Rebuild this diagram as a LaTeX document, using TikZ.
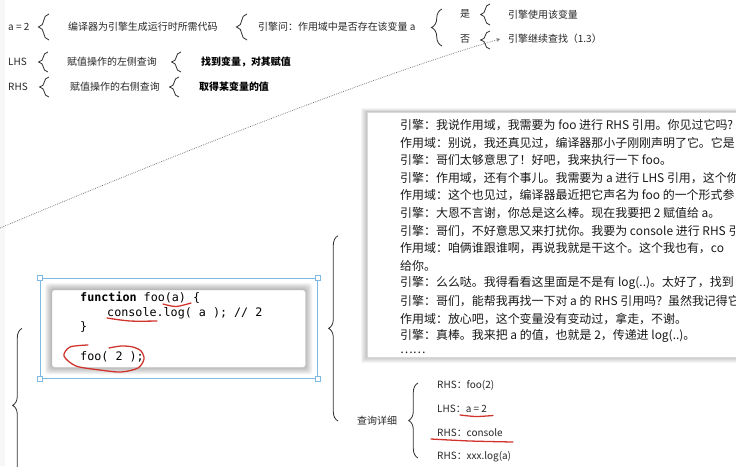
\documentclass[tikz,border=0pt]{standalone}
\usepackage{fontspec}
\setmainfont{Noto Sans CJK SC}
\newfontfamily\codefont{DejaVu Sans Mono}
\usetikzlibrary{arrows.meta, positioning, decorations.pathreplacing, calc, backgrounds}

\definecolor{selblue}{HTML}{7DB9E3}
\definecolor{pen}{HTML}{D0342C}

\begin{document}
\begin{tikzpicture}[
  x=0.03cm, y=-0.03cm,
  every node/.style = {inner sep=0pt, font=\fontsize{8.5}{10}\selectfont, text=black!85},
  txt/.style = {anchor=west},
  strong/.style = {anchor=west, font=\fontsize{8.5}{10}\selectfont\bfseries, text=black},
  talk/.style = {anchor=west, font=\fontsize{10.2}{12}\selectfont, text=black!90},
  codeline/.style = {anchor=west, font=\codefont\fontsize{10}{12}\selectfont, text=black},
  curly/.style = {decorate, decoration={brace, amplitude=#1}, draw=black!80, line width=0.7pt},
  curly/.default = 8,
  panel/.style = {rectangle, fill=white, draw=black!15, line width=0.4pt, anchor=north west},
  handle/.style = {rectangle, draw=selblue, fill=white, line width=0.6pt, minimum size=0.15cm},
  relation/.style = {densely dotted, draw=black!60, line width=0.6pt, -{Stealth[length=3pt, width=3pt]}},
  redpen/.style = {draw=pen, line width=1.1pt, line cap=round, line join=round}
]
\useasboundingbox (0,0) rectangle (736,466);
\clip (0,0) rectangle (736,466);

% Top rows
\node[txt] (a2) at (8,27) {a = 2};
\node[txt] (gen) at (68,27) {编译器为引擎生成运行时所需代码};
\node[txt] (ask) at (258,27) {引擎问：作用域中是否存在该变量 a};
\node[txt] (yes) at (460,14) {是};
\node[txt] (no) at (460,39) {否};
\node[txt] (useit) at (508,15) {引擎使用该变量};
\node[txt] (goon) at (508,39) {引擎继续查找（1.3）};

\node[txt] (lhs) at (8,62) {LHS};
\node[txt] (lhsq) at (67,62) {赋值操作的左侧查询};
\node[strong] (lhsa) at (201,62) {找到变量，对其赋值};
\node[txt] (rhs) at (8,87) {RHS};
\node[txt] (rhsq) at (70,87) {赋值操作的右侧查询};
\node[strong] (rhsa) at (199,87) {取得某变量的值};

% Braces of the top rows
\draw[curly=9] ($(gen.west)+(-19,13)$) -- ($(gen.west)+(-19,-13)$);
\draw[curly=9] ($(ask.west)+(-11,13)$) -- ($(ask.west)+(-11,-13)$);
\draw[curly=9] ($(no.west)+(-18,7)$) -- ($(yes.west)+(-18,-5)$);
\draw[curly=8] ($(useit.west)+(-18,10)$) -- ($(useit.west)+(-18,-11)$);
\draw[curly=8] ($(goon.west)+(-18,10)$) -- ($(goon.west)+(-18,-8)$);
\draw[curly=8] ($(lhsq.west)+(-19,10)$) -- ($(lhsq.west)+(-19,-10)$);
\draw[curly=8] ($(lhsa.west)+(-20,10)$) -- ($(lhsa.west)+(-20,-10)$);
\draw[curly=8] ($(rhsq.west)+(-21,10)$) -- ($(rhsq.west)+(-21,-10)$);
\draw[curly=8] ($(rhsa.west)+(-20,10)$) -- ($(rhsa.west)+(-20,-10)$);

% Dialog panel
\node[panel, minimum width=12cm, minimum height=7.35cm] (talkbox) at (367,112) {};
\node[talk] (t1) at (400,125) {引擎：我说作用域，我需要为 foo 进行 RHS 引用。你见过它吗?};
\node[talk] (t2) at (400,142.6) {作用域：别说，我还真见过，编译器那小子刚刚声明了它。它是};
\node[talk] (t3) at (400,160.2) {引擎：哥们太够意思了！好吧，我来执行一下 foo。};
\node[talk] (t4) at (400,177.8) {引擎：作用域，还有个事儿。我需要为 a 进行 LHS 引用，这个你};
\node[talk] (t5) at (400,195.4) {作用域：这个也见过，编译器最近把它声名为 foo 的一个形式参};
\node[talk] (t6) at (400,213) {引擎：大恩不言谢，你总是这么棒。现在我要把 2 赋值给 a。};
\node[talk] (t7) at (400,230.6) {引擎：哥们，不好意思又来打扰你。我要为 console 进行 RHS 引};
\node[talk] (t8) at (400,248.2) {作用域：咱俩谁跟谁啊，再说我就是干这个。这个我也有，co};
\node[talk] (t9) at (400,265.8) {给你。};
\node[talk] (t10) at (400,283.4) {引擎：么么哒。我得看看这里面是不是有 log(..)。太好了，找到};
\node[talk] (t11) at (400,301) {引擎：哥们，能帮我再找一下对 a 的 RHS 引用吗？虽然我记得它};
\node[talk] (t12) at (400,318.6) {作用域：放心吧，这个变量没有变动过，拿走，不谢。};
\node[talk] (t13) at (400,336.2) {引擎：真棒。我来把 a 的值，也就是 2，传递进 log(..)。};
\node[talk] (t14) at (400,353) {……};

% Code snippet
\node[rectangle, draw=selblue, line width=0.6pt, anchor=north west,
      minimum width=8.31cm, minimum height=3cm] (codesel) at (40,278) {};
\node[panel, rounded corners=2pt, draw=black!10,
      minimum width=7.59cm, minimum height=2.31cm] (codebox) at (52,290) {};
\foreach \c in {north west, north east, south west, south east}
  \node[handle] (h-\c) at (codesel.\c) {};
\node[codeline] (c1) at (80,298) {\textbf{function} foo(a) \{};
\node[codeline] (c2) at (107,313) {console.log( a ); // 2};
\node[codeline] (c3) at (80,327) {\}};
\node[codeline] (c4) at (80,357) {foo( 2 );};

% Query details
\node[txt] (query) at (357,421) {查询详细};
\node[txt] (r1) at (437,385) {RHS：foo(2)};
\node[txt] (r2) at (437,409) {LHS：a = 2};
\node[txt] (r3) at (437,433) {RHS：console};
\node[txt] (r4) at (437,457) {RHS：xxx.log(a)};

% Big braces
\draw[curly=8] ($(query.west)+(-19,0)$) -- ($(query.west |- talkbox.west)+(-19,1)$);
\draw[curly=8] ($(r4.west)+(-19,1)$) -- ($(r1.west)+(-19,-2)$);
\coordinate (below) at ($(codesel.west)+(-18,154)$);
\draw[curly=8] (below) -- ($(codesel.west)+(-18,0)$);

% Dotted relation
\coordinate (relstart) at (0,228);
\draw[relation] (relstart) .. controls (150,165) and (360,80) .. ($(goon.west)+(-8,0)$);

% Red pen marks
\draw[redpen] plot[smooth] coordinates {(163,304) (176,306.5) (191,303)};
\draw[redpen] plot[smooth] coordinates {(107,318) (130,321) (157,321)};
\draw[redpen] plot[smooth] coordinates {(88,345) (70,347) (64,356) (76,366) (100,370) (121,372) (138,368) (144,359) (141,351) (133,347) (121,346) (109,348)};
\draw[redpen] plot[smooth] coordinates {(460,415) (476,416.5) (493,415.5)};
\draw[redpen] plot[smooth] coordinates {(431,439) (470,441) (513,442)};

% Shadows and strip
\begin{scope}[on background layer]
  \fill[black!3] (0,0) rectangle (5,466);
  \foreach \d in {1,...,6}
    \fill[black, opacity=0.04] ($(talkbox.north west)+(-\d,-0.6*\d)$) rectangle ($(talkbox.south east)+(\d,\d)$);
  \foreach \d in {1,...,7}
    \fill[black, opacity=0.045, rounded corners=3pt] ($(codebox.north west)+(-\d,-\d)$) rectangle ($(codebox.south east)+(\d,\d)$);
\end{scope}

\end{tikzpicture}
\end{document}
